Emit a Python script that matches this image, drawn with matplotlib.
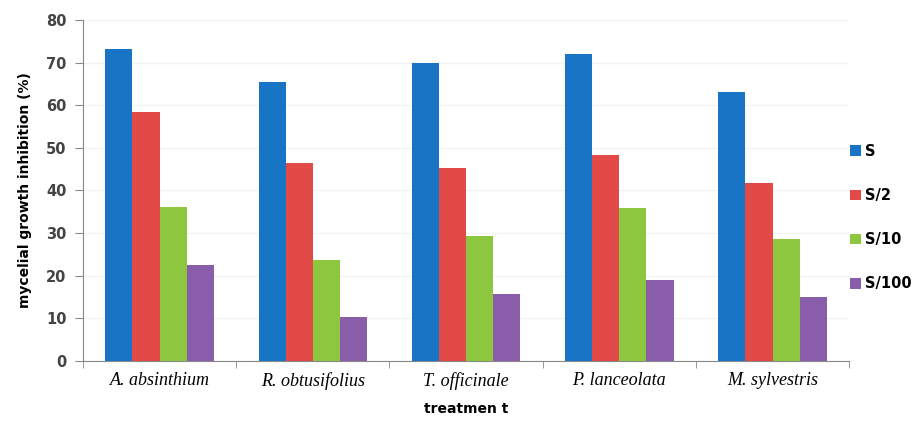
import numpy as np
import matplotlib
matplotlib.use('Agg')
import matplotlib.pyplot as plt

# values (mycelial growth inhibition, %)
species = ['A. absinthium', 'R. obtusifolius', 'T. officinale', 'P. lanceolata', 'M. sylvestris']
doses = ['S', 'S/2', 'S/10', 'S/100']
s_full = [73.2, 65.5, 70.0, 72.1, 63.1]
s_half = [58.5, 46.5, 45.3, 48.4, 41.8]
s_tenth = [36.2, 23.7, 29.3, 35.9, 28.6]
s_hundredth = [22.5, 10.3, 15.7, 19.0, 15.0]
colors = ['#1874C4', '#E14A46', '#8DC63F', '#8A5DAA']

series = [s_full, s_half, s_tenth, s_hundredth]

fig = plt.figure(figsize=(9.15, 4.25), dpi=100)
ax = fig.add_axes([0.0907, 0.1506, 0.8373, 0.8024])

x = np.arange(len(species))
w = 0.177
for i, (vals, lab, c) in enumerate(zip(series, doses, colors)):
    ax.bar(x + (i - 1.5) * w, vals, width=w, color=c, label=lab, zorder=3)

ax.set_xlim(-0.5, len(species) - 0.5)
ax.set_ylim(0, 80)
ax.set_yticks(range(0, 81, 10))
ax.set_xticks(x)
ax.set_xticklabels(species, fontfamily='Liberation Serif', fontstyle='italic', fontsize=13)
ax.set_xticks(np.arange(len(species) + 1) - 0.5, minor=True)
ax.tick_params(axis='x', which='major', length=0, pad=8)
ax.tick_params(axis='x', which='minor', length=5, color='#888888', direction='out')
ax.tick_params(axis='y', length=6, color='#888888', labelsize=10.5, pad=6)
for t in ax.get_yticklabels():
    t.set_fontweight('bold')
    t.set_color('#444444')

ax.grid(axis='y', color='#f3f3f3', linewidth=1, zorder=0)
for s in ['top', 'right']:
    ax.spines[s].set_visible(False)
for s in ['left', 'bottom']:
    ax.spines[s].set_color('#888888')

ax.set_ylabel('mycelial growth inhibition (%)', fontsize=10, fontweight='bold', labelpad=10)
ax.set_xlabel('treatmen t', fontsize=10, fontweight='bold', labelpad=9)

fig.legend(loc='center left', bbox_to_anchor=(0.929, 0.488), frameon=False,
           handlelength=0.75, handleheight=0.75, handletextpad=0.3, labelspacing=2.0,
           prop={'size': 10.5, 'weight': 'bold'}, borderaxespad=0, borderpad=0)

fig.savefig('out.png', dpi=100)
